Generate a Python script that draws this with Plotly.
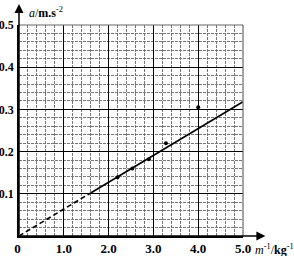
import plotly.graph_objects as go

# data points (m^-1 in kg^-1, a in m/s^2)
pts_x = [2.2, 2.53, 2.9, 3.28, 4.0, 5.02]
pts_y = [0.139, 0.160, 0.182, 0.22, 0.305, 0.31]
# fitted line: dashed part (extrapolation) and solid part
fit_dash_x = [0.0, 1.6]
fit_dash_y = [0.0, 0.102]
fit_solid_x = [1.6, 5.0]
fit_solid_y = [0.102, 0.318]
x_ticks = [0, 1, 2, 3, 4, 5]
x_tick_text = ["0 ", "1.0", "2.0", "3.0", "4.0", "5.0"]
y_ticks = [0.1, 0.2, 0.3, 0.4, 0.5]
y_tick_text = ["0.1", "0.2", "0.3", "0.4", "0.5"]

W, H = 294, 256
ML, MR, MT, MB = 19, 51, 25, 20
PW, PH = W - ML - MR, H - MT - MB

font = dict(family="Liberation Serif, Times New Roman, serif", size=12, color="black")
xtickfont = dict(family="Liberation Serif", size=13, color="black", weight="bold")
ytickfont = dict(family="Liberation Serif", size=12, color="black", weight="bold")

fig = go.Figure()
fig.add_trace(go.Scatter(x=fit_dash_x, y=fit_dash_y, mode="lines",
                         line=dict(color="black", width=1.6, dash="5px,3px"), cliponaxis=False))
fig.add_trace(go.Scatter(x=fit_solid_x, y=fit_solid_y, mode="lines",
                         line=dict(color="black", width=1.6), cliponaxis=False))
fig.add_trace(go.Scatter(x=pts_x, y=pts_y, mode="markers",
                         marker=dict(color="black", size=4), cliponaxis=False))

fig.update_layout(
    width=W, height=H,
    margin=dict(l=ML, r=MR, t=MT, b=MB),
    paper_bgcolor="white", plot_bgcolor="white",
    showlegend=False,
    font=font,
)
fig.update_xaxes(
    range=[0, 5], tickvals=x_ticks, ticktext=x_tick_text, automargin=False,
    showgrid=True, gridcolor="black", gridwidth=1.3,
    minor=dict(dtick=0.2, showgrid=True, gridcolor="#777", griddash="3px,1px", gridwidth=1),
    showline=True, linecolor="black", linewidth=1.5, zeroline=False, ticks="",
    tickfont=xtickfont,
)
fig.update_yaxes(
    range=[0, 0.5], tickvals=y_ticks, ticktext=y_tick_text, automargin=False,
    showgrid=True, gridcolor="black", gridwidth=1.3,
    minor=dict(dtick=0.02, showgrid=True, gridcolor="#777", griddash="3px,1px", gridwidth=1),
    showline=True, linecolor="black", linewidth=1.5, zeroline=False, ticks="",
    tickfont=ytickfont, ticklabelstandoff=1,
)

# right and top border of the grid (gray)
fig.add_shape(type="line", xref="paper", yref="paper", x0=1, x1=1, y0=0, y1=1,
              line=dict(color="#666", width=1.2))
fig.add_shape(type="line", xref="paper", yref="paper", x0=0, x1=1, y0=1, y1=1,
              line=dict(color="#666", width=1.2))
# axes with arrows
fig.add_annotation(xref="paper", yref="paper", x=1.1, y=0, ax=-1.1 * PW, ay=0,
                   axref="pixel", ayref="pixel", showarrow=True, text="",
                   arrowhead=2, arrowsize=1.2, arrowwidth=1.5, arrowcolor="black")
fig.add_annotation(xref="paper", yref="paper", x=0, y=1.1, ax=0, ay=1.1 * PH,
                   axref="pixel", ayref="pixel", showarrow=True, text="",
                   arrowhead=2, arrowsize=1.2, arrowwidth=1.5, arrowcolor="black")
# axis titles
fig.add_annotation(xref="paper", yref="paper", x=0.035, y=1.06, xanchor="left", yanchor="middle",
                   showarrow=False,
                   text="<i>a</i>/<b>m.s</b><sup>-2</sup>",
                   font=dict(family="Liberation Serif", size=12, color="black"))
fig.add_annotation(xref="paper", yref="paper", x=1.045, y=-0.02, xanchor="left", yanchor="top",
                   showarrow=False,
                   text="<i>m</i><sup>-1</sup>/<b>kg</b><sup>-1</sup>",
                   font=dict(family="Liberation Serif", size=12, color="black"))

fig.write_html("out.html")
